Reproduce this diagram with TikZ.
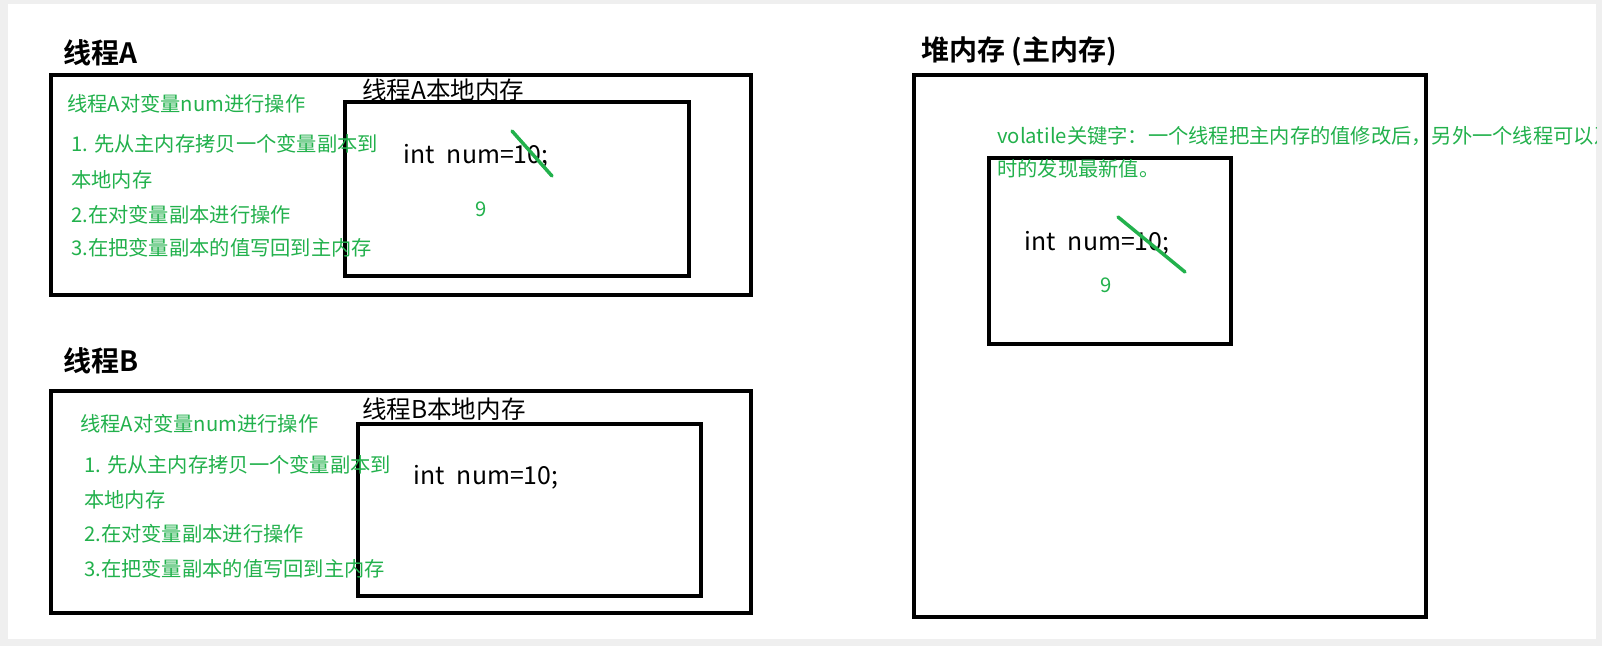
\documentclass[tikz,border=0pt]{standalone}
\usepackage{fontspec}
\setmainfont{Noto Sans CJK SC}
\newfontfamily\cjkb{Noto Sans CJK SC Bold}
\definecolor{pgreen}{HTML}{22B14C}
\definecolor{bggray}{HTML}{EFEFEF}
\tikzset{
  box/.style={draw=black, line width=3.2pt},
  ttl/.style={anchor=west, inner sep=0pt, font=\cjkb\fontsize{21pt}{22pt}\selectfont},
  loc/.style={anchor=west, inner sep=0pt, font=\fontsize{18.4pt}{19pt}\selectfont},
  code/.style={anchor=west, inner sep=0pt, font=\fontsize{18.6pt}{19pt}\selectfont},
  gtxt/.style={anchor=west, inner sep=0pt, text=pgreen, font=\fontsize{15.2pt}{16pt}\selectfont},
  slash/.style={draw=pgreen, line width=2.6pt, line cap=round}
}
\newcommand{\codetxt}{int\hspace{0.5em}num=10;}
\begin{document}
\begin{tikzpicture}[x=0.75pt,y=-0.75pt]
\useasboundingbox (0,0) rectangle (1602,646);
\fill[bggray] (0,0) rectangle (1602,646);
\fill[white] (8,4) rectangle (1596,639);

% Thread A
\node[ttl] (tA) at (63,53) {线程A};
\draw[box] (51,75) rectangle (751,295);
\draw[box] (345,102) rectangle (689,276);
\node[loc] (locA) at (362,90) {线程A本地内存};
\node[gtxt] (a0) at (67,104) {线程A对变量num进行操作};
\node[gtxt] (a1) at (71,144) {1. 先从主内存拷贝一个变量副本到};
\node[gtxt] (a2) at (71,180) {本地内存};
\node[gtxt] (a3) at (71,215) {2.在对变量副本进行操作};
\node[gtxt] (a4) at (71,248) {3.在把变量副本的值写回到主内存};
\node[code] (cA) at (403,156) {\codetxt};
\node[gtxt] (nA) at (475,209) {9};
\coordinate (sA1) at (512,131);
\coordinate (sA2) at (552,176);
\draw[slash] (sA1) -- (sA2);

% Thread B
\node[ttl] (tB) at (63,361) {线程B};
\draw[box] (51,391) rectangle (751,613);
\draw[box] (358,424) rectangle (701,596);
\node[loc] (locB) at (362,409) {线程B本地内存};
\node[gtxt] (b0) at (80,424) {线程A对变量num进行操作};
\node[gtxt] (b1) at (84,465) {1. 先从主内存拷贝一个变量副本到};
\node[gtxt] (b2) at (84,500) {本地内存};
\node[gtxt] (b3) at (84,534) {2.在对变量副本进行操作};
\node[gtxt] (b4) at (84,569) {3.在把变量副本的值写回到主内存};
\node[code] (cB) at (413,477) {\codetxt};

% Heap
\node[ttl] (tH) at (921,51) {堆内存 (主内存)};
\draw[box] (914,75) rectangle (1426,617);
\draw[box] (989,158) rectangle (1231,344);
\begin{scope}
\clip (8,4) rectangle (1596,639);
\node[gtxt] (v1) at (997,136) {volatile关键字：一个线程把主内存的值修改后，另外一个线程可以及};
\end{scope}
\node[gtxt] (v2) at (997,169) {时的发现最新值。};
\node[code] (cH) at (1024,243) {\codetxt};
\node[gtxt] (nH) at (1100,285) {9};
\coordinate (sH1) at (1118,217);
\coordinate (sH2) at (1185,272);
\draw[slash] (sH1) -- (sH2);
\end{tikzpicture}
\end{document}
